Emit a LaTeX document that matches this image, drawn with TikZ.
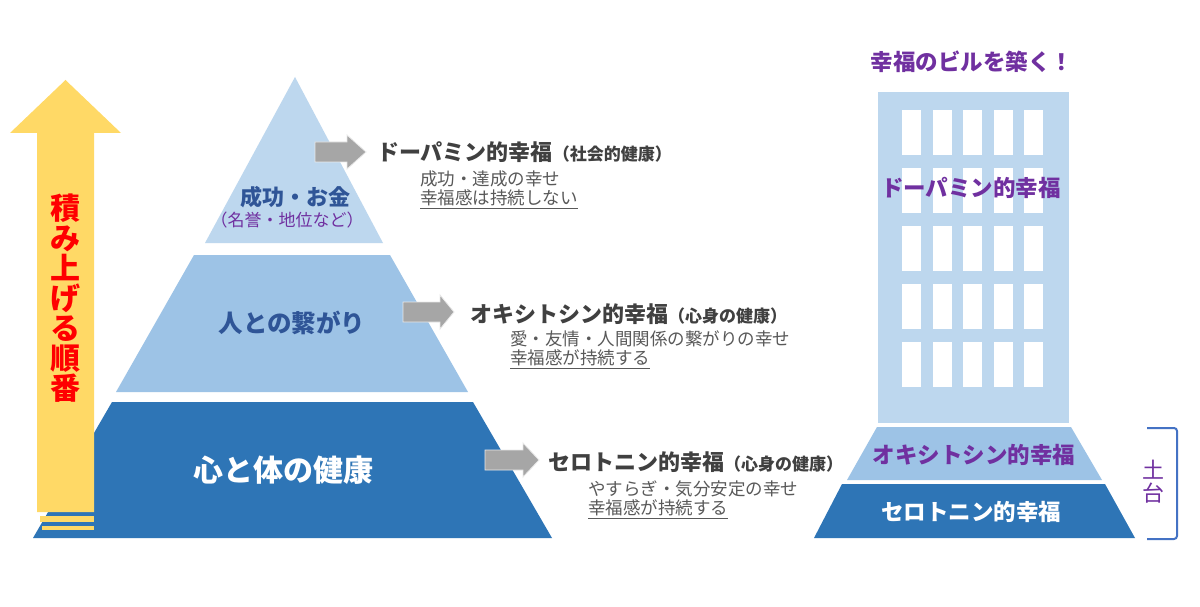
\documentclass[tikz,border=0pt]{standalone}
\usepackage{fontspec}
\setmainfont{Noto Sans CJK JP}
\definecolor{lb}{HTML}{BDD7EE}
\definecolor{mb}{HTML}{9DC3E6}
\definecolor{db}{HTML}{2E75B6}
\definecolor{yel}{HTML}{FFD966}
\definecolor{pur}{HTML}{7030A0}
\definecolor{navy}{HTML}{2F5597}
\definecolor{hd}{HTML}{404040}
\definecolor{bd}{HTML}{595959}
\definecolor{arr}{HTML}{A6A6A6}
\definecolor{brk}{HTML}{4472C4}
\newcommand\fs[1]{\fontsize{#1}{#1}\selectfont}
\newcommand\garrow[4]{\fill[arr,draw=white!75!arr,line width=0.8]
  (#1,#4-10) -- (#2,#4-10) -- (#2,#4-17) -- (#3,#4) -- (#2,#4+17) -- (#2,#4+10) -- (#1,#4+10) -- cycle;}
\begin{document}
\begin{tikzpicture}[x=1pt,y=-1pt,
  every node/.style={inner sep=0pt,outer sep=0pt},
  headtxt/.style={anchor=west,text=hd,font=\bfseries\fs{22}},
  subtxt/.style={anchor=west,text=bd,font=\fs{17.5}},
  uline/.style={draw=bd,line width=1.2},
  bldtxt/.style={font=\bfseries\fs{22.5}}]
\useasboundingbox[fill=white] (0,0) rectangle (1200,607);

% pyramid
\fill[lb] (295,77) -- (383,243) -- (205,243) -- cycle;
\fill[mb] (194,255) -- (390,255) -- (468,392) -- (116,392) -- cycle;
\fill[db] (112,402) -- (473,402) -- (552,538) -- (33,538) -- cycle;

% yellow arrow
\fill[yel] (37,512) -- (37,133) -- (10,133) -- (65.5,80) -- (121,133) -- (94,133) -- (94,512) -- cycle;
\fill[yel] (40,516) rectangle (94,522);
\fill[yel] (42,526) rectangle (94,530);
\node[text=red,font=\bfseries\fontsize{30}{30}\selectfont,align=center] (order) at (65.5,298)
  {積\\み\\上\\げ\\る\\順\\番};

% pyramid labels
\node[text=navy,font=\bfseries\fs{22}] (l1) at (295,197) {成功・お金};
\node[text=pur,font=\fs{17}] (l1b) at (287,220) {（名誉・地位など）};
\node[text=navy,font=\bfseries\fs{24.5}] (l2) at (292,323) {人との繋がり};
\node[text=white,font=\bfseries\fs{30}] (l3) at (283,470) {心と体の健康};

% gray arrows
\garrow{315}{347}{366}{152}
\garrow{403}{440}{454}{312}
\garrow{485}{523}{539}{460}

% right-hand texts
\node[headtxt] (h1) at (377,152) {ドーパミン的幸福{\fs{17}（社会的健康）}};
\node[subtxt] (s1a) at (420,179) {成功・達成の幸せ};
\node[subtxt] (s1b) at (420,198) {幸福感は持続しない};
\draw[uline] ([yshift=-2pt]s1b.south west) -- ([yshift=-2pt]s1b.south east);

\node[headtxt] (h2) at (470,314) {オキシトシン的幸福{\fs{17}（心身の健康）}};
\node[subtxt] (s2a) at (510,339) {愛・友情・人間関係の繋がりの幸せ};
\node[subtxt] (s2b) at (510,358) {幸福感が持続する};
\draw[uline] ([yshift=-2pt]s2b.south west) -- ([yshift=-2pt]s2b.south east);

\node[headtxt] (h3) at (548,462) {セロトニン的幸福{\fs{17}（心身の健康）}};
\node[subtxt] (s3a) at (588,489) {やすらぎ・気分安定の幸せ};
\node[subtxt] (s3b) at (588,508) {幸福感が持続する};
\draw[uline] ([yshift=-2pt]s3b.south west) -- ([yshift=-2pt]s3b.south east);

% building
\node[text=pur,bldtxt] (title) at (972,62) {幸福のビルを築く！};
\fill[lb] (878,92) rectangle (1069,423);
\foreach \c in {0,...,4}
  \foreach \r in {0,...,4}
    \fill[white] (902+30.6*\c,110+58*\r) rectangle ++(19,45);
\node[text=pur,bldtxt] (bd1) at (971,188) {ドーパミン的幸福};
\fill[mb] (877,427) -- (1071,427) -- (1102,480) -- (847,480) -- cycle;
\fill[db] (842,484) -- (1105,484) -- (1135,538) -- (814,538) -- cycle;
\node[text=pur,bldtxt] (bd2) at (974,455) {オキシトシン的幸福};
\node[text=white,bldtxt] (bd3) at (971,512) {セロトニン的幸福};

% bracket
\coordinate (bt) at (1147,428);
\coordinate (bb) at (1147,539);
\draw[brk,line width=2,rounded corners=3] (bt) -- (1177,428) -- (1177,539) -- (bb);
\node[text=pur,font=\fontsize{22}{23}\selectfont,align=center] (dodai) at (1153,482) {土\\台};
\end{tikzpicture}
\end{document}
